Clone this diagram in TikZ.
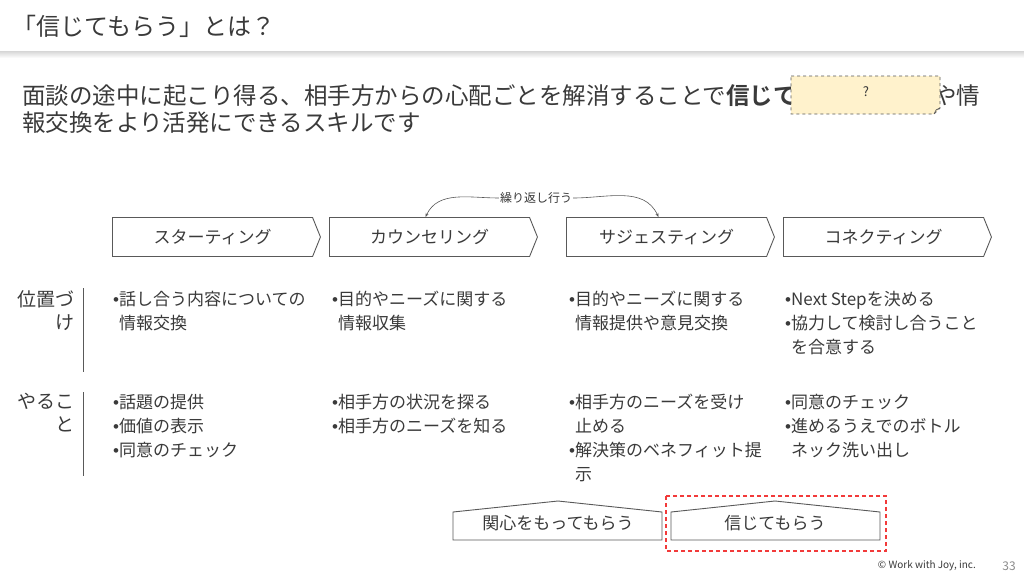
\documentclass[tikz,border=0pt]{standalone}
\usepackage{fontspec}
\setmainfont{Noto Sans CJK JP}[BoldFont={Noto Sans CJK JP Bold}]
\newfontfamily\bulfont{Liberation Sans}
\usepackage{xcolor}
\usetikzlibrary{shapes.symbols,arrows.meta,positioning}
\definecolor{txtgray}{HTML}{3A3A3A}
\definecolor{linegray}{HTML}{595959}
\definecolor{notefill}{HTML}{FFF2CC}
\definecolor{markred}{HTML}{F23A3A}
\newcommand{\bul}{{\bulfont •}}
\newcommand{\ind}{\hphantom{\bul}}
\tikzstyle{stage} = [draw=linegray, line width=0.9pt, signal, signal to=east,
signal from=nowhere, signal pointer angle=136, minimum width=208pt,
minimum height=39pt, inner sep=0pt, text=txtgray, font=\fontsize{17}{20}\selectfont]
\tikzstyle{roof} = [draw=linegray, line width=0.9pt]
\tikzstyle{rooftext} = [inner sep=0pt, text=txtgray, font=\fontsize{17}{20}\selectfont]
\tikzstyle{coltext} = [anchor=north west, align=left, inner sep=0pt,
text=txtgray, font=\fontsize{17}{24}\selectfont]
\tikzstyle{rowlabel} = [anchor=north east, align=right, inner sep=0pt,
text=txtgray, font=\fontsize{19}{23}\selectfont]
\begin{document}
\begin{tikzpicture}[x=1pt, y=-1pt]
    \useasboundingbox[fill=white] (0,0) rectangle (1024,576);
    % header
    \shade[top color=black!16, bottom color=white] (0,51) rectangle (1024,58);
    \node[anchor=west, inner sep=0pt, text=txtgray, font=\fontsize{24}{28}\selectfont] (title) at (12,26) {「信じてもらう」とは？};

    % lead text with sticky note
    \node[anchor=west, inner sep=0pt, text=txtgray, font=\fontsize{23.5}{28}\selectfont] (lead1) at (22,96)
        {面談の途中に起こり得る、相手方からの心配ごとを解消することで\textbf{信じて}};
    \node[anchor=west, inner sep=0pt, text=txtgray, font=\fontsize{23.5}{28}\selectfont] (lead1b) at (933,96) {や情};
    \node[anchor=west, inner sep=0pt, text=txtgray, font=\fontsize{23.5}{28}\selectfont] (lead2) at (22,123)
        {報交換をより活発にできるスキルです};
    \filldraw[fill=notefill, draw=linegray, dashed, line width=0.7pt]
        (791,76) -- (940,76) -- (940,108) -- (934,114) -- (791,114) -- cycle;
    \draw[linegray, line width=0.7pt] (934,114) -- (936,110) -- (940,108);
    \node[text=txtgray, font=\fontsize{13}{15}\selectfont] (qmark) at (866,92) {?};

    % stages
    \node[stage, anchor=west] (start) at (112,237) {スターティング};
    \node[stage, anchor=west] (counsel) at (329,237) {カウンセリング};
    \node[stage, anchor=west] (suggest) at (566,237) {サジェスティング};
    \node[stage, anchor=west] (connect) at (783,237) {コネクティング};
    \node[text=txtgray, inner sep=1pt, font=\fontsize{12}{14}\selectfont] (repeat) at (536,198) {繰り返し行う};
    \draw[linegray, line width=0.6pt, -{Stealth[length=4pt,width=3pt]}]
        (repeat.west) to[out=180, in=65] ([xshift=-4pt]counsel.north);
    \draw[linegray, line width=0.6pt, -{Stealth[length=4pt,width=3pt]}]
        (repeat.east) to[out=0, in=115] ([xshift=-8pt]suggest.north);

    % row labels
    \node[rowlabel] (posLabel) at (75,290) {位置づ\\け};
    \node[rowlabel] (todoLabel) at (75,393) {やるこ\\と};
    \draw[linegray, line width=0.8pt] (83,288) -- (83,372);
    \draw[linegray, line width=0.8pt] (83,392) -- (83,476);

    % positioning row
    \node[coltext] (posA) at (113,291) {\bul 話し合う内容についての\\\ind 情報交換};
    \node[coltext] (posB) at (332,291) {\bul 目的やニーズに関する\\\ind 情報収集};
    \node[coltext] (posC) at (569,291) {\bul 目的やニーズに関する\\\ind 情報提供や意見交換};
    \node[coltext] (posD) at (785,291) {\bul Next Stepを決める\\\bul 協力して検討し合うこと\\\ind を合意する};

    % to-do row
    \node[coltext] (todoA) at (113,394) {\bul 話題の提供\\\bul 価値の表示\\\bul 同意のチェック};
    \node[coltext] (todoB) at (332,394) {\bul 相手方の状況を探る\\\bul 相手方のニーズを知る};
    \node[coltext] (todoC) at (569,394) {\bul 相手方のニーズを受け\\\ind 止める\\\bul 解決策のベネフィット提\\\ind 示};
    \node[coltext] (todoD) at (785,394) {\bul 同意のチェック\\\bul 進めるうえでのボトル\\\ind ネック洗い出し};

    % bottom
    \draw[roof] (453,540) -- (453,512) -- (558,501) -- (662,512) -- (662,540) -- cycle;
    \draw[roof] (671,540) -- (671,512) -- (775,501) -- (880,512) -- (880,540) -- cycle;
    \node[rooftext] (interest) at (558,523) {関心をもってもらう};
    \node[rooftext] (trust) at (775,523) {信じてもらう};
    \draw[markred, line width=1.3pt, dash pattern=on 4pt off 3pt] (666,496) rectangle (886,551);

    % footer
    \node[anchor=east, inner sep=0pt, text=txtgray, font=\fontsize{10}{12}\selectfont] (copyright) at (976,566) {© Work with Joy, inc.};
    \node[anchor=east, inner sep=0pt, text=black!45, font=\fontsize{12}{14}\selectfont] (pagenum) at (1016,566) {33};
\end{tikzpicture}
\end{document}
